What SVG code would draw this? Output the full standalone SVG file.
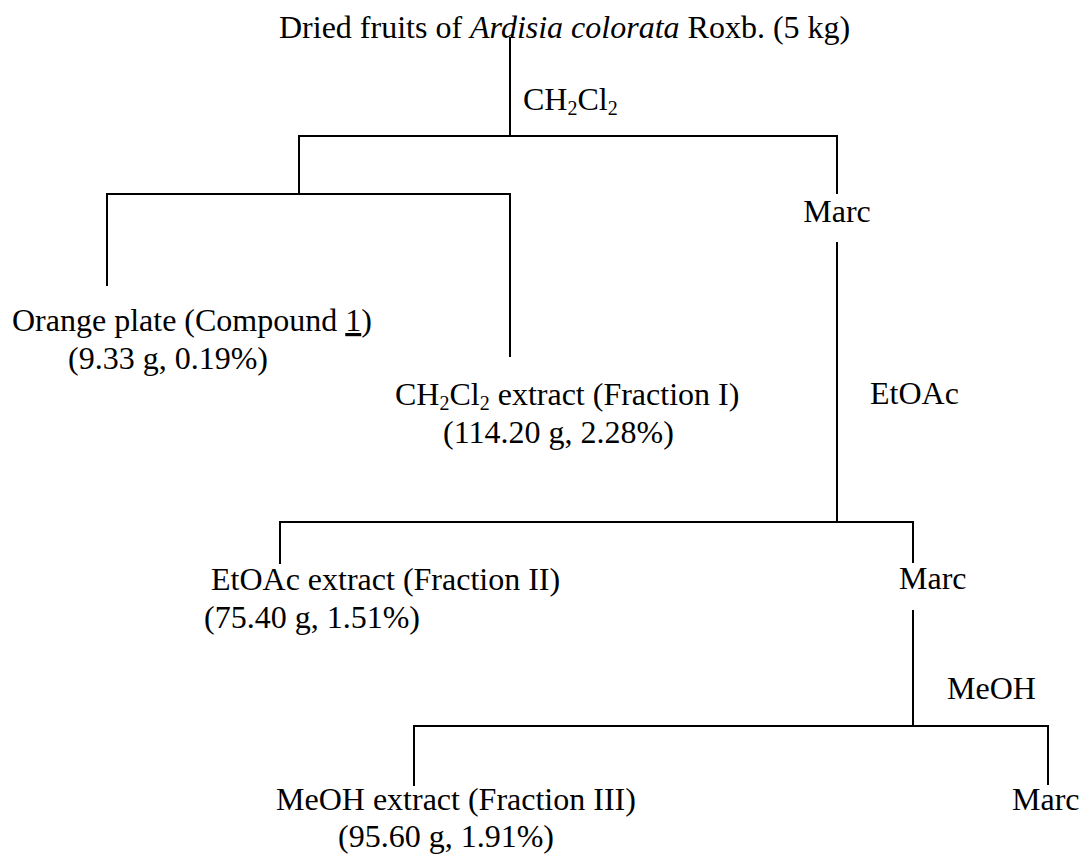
<svg xmlns="http://www.w3.org/2000/svg" width="1082" height="854" viewBox="0 0 1082 854">
<style>
text{font-family:"Liberation Serif","Times New Roman",serif;font-size:32px;fill:#000}
.sub{font-size:20px}
.mid{text-anchor:middle}
.c line{stroke:#000;stroke-width:2;stroke-linecap:square}
</style>
<rect width="1082" height="854" fill="#fff"/>
<g class="c" id="connectors">
<line x1="510" y1="38" x2="510" y2="136"/>
<line x1="299" y1="136" x2="837" y2="136"/>
<line x1="837" y1="136" x2="837" y2="193"/>
<line x1="299" y1="136" x2="299" y2="194"/>
<line x1="107" y1="194" x2="510" y2="194"/>
<line x1="107" y1="194" x2="107" y2="285"/>
<line x1="510" y1="194" x2="510" y2="356"/>
<line x1="837" y1="243" x2="837" y2="522"/>
<line x1="280" y1="522" x2="913" y2="522"/>
<line x1="280" y1="522" x2="280" y2="563"/>
<line x1="913" y1="522" x2="913" y2="562"/>
<line x1="913" y1="611" x2="913" y2="726"/>
<line x1="414" y1="726" x2="1048" y2="726"/>
<line x1="414" y1="726" x2="414" y2="785"/>
<line x1="1048" y1="726" x2="1048" y2="784"/>
</g>
<g id="start"><text x="279" y="38">Dried fruits of <tspan font-style="italic">Ardisia colorata</tspan> Roxb. (5 kg)</text></g>
<g id="label-ch2cl2"><text x="523" y="110">CH<tspan class="sub" dy="5">2</tspan><tspan dy="-5">Cl</tspan><tspan class="sub" dy="5">2</tspan></text></g>
<g id="marc1"><text x="837" y="222" class="mid">Marc</text></g>
<g id="compound1"><text x="12" y="331">Orange plate (Compound <tspan text-decoration="underline">1</tspan>)</text><text x="68" y="369">(9.33 g, 0.19%)</text></g>
<g id="fraction1"><text x="395" y="405">CH<tspan class="sub" dy="5">2</tspan><tspan dy="-5">Cl</tspan><tspan class="sub" dy="5">2</tspan><tspan dy="-5"> extract (Fraction I)</tspan></text><text x="443" y="443">(114.20 g, 2.28%)</text></g>
<g id="label-etoac"><text x="870" y="404">EtOAc</text></g>
<g id="fraction2"><text x="211" y="590">EtOAc extract (Fraction II)</text><text x="204" y="628">(75.40 g, 1.51%)</text></g>
<g id="marc2"><text x="899" y="589">Marc</text></g>
<g id="label-meoh"><text x="947" y="699">MeOH</text></g>
<g id="fraction3"><text x="276" y="810">MeOH extract (Fraction III)</text><text x="338" y="847">(95.60 g, 1.91%)</text></g>
<g id="marc3"><text x="1012" y="810">Marc</text></g>
</svg>
